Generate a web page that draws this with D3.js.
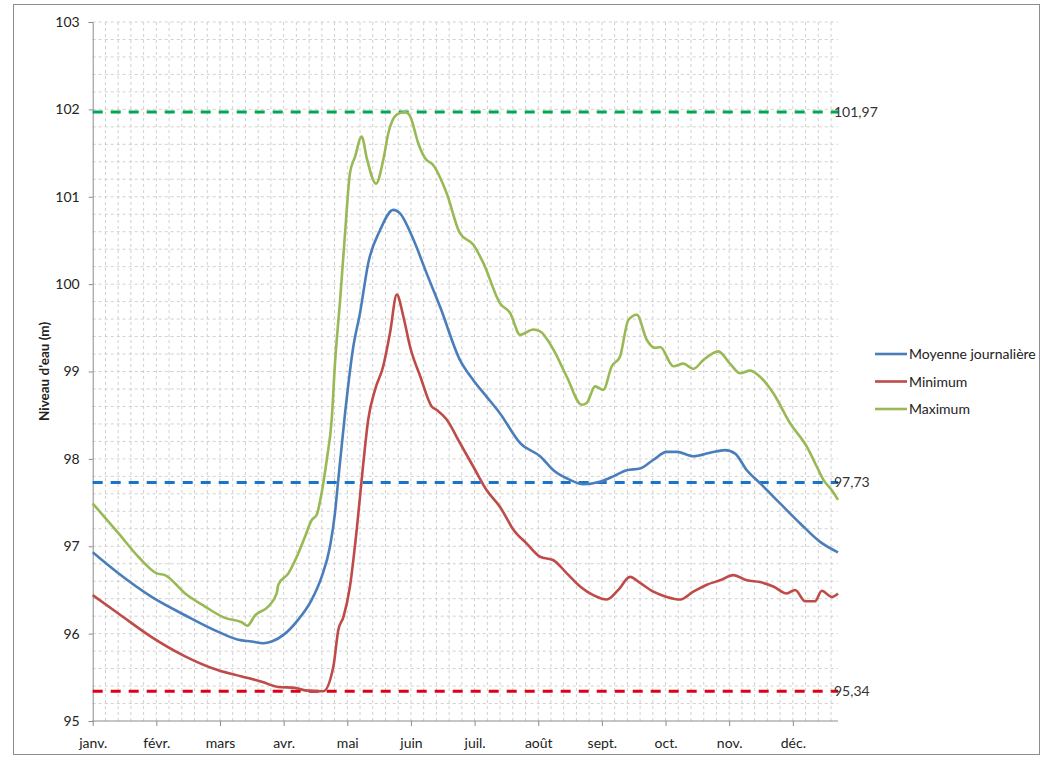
<!DOCTYPE html>
<html>
<head>
<meta charset="utf-8">
<script src="https://cdn.jsdelivr.net/npm/d3@7"></script>
<style>
body { margin: 0; background: #fff; }
text { font-family: Lato, "Open Sans", sans-serif; fill: #222; }
</style>
</head>
<body>
<svg width="1043" height="758"></svg>
<script>
// month labels, one every 31 days on the axis
var months = ["janv.", "févr.", "mars", "avr.", "mai", "juin", "juil.", "août", "sept.", "oct.", "nov.", "déc."];

// Moyenne journalière (day of year, level in m)
var meanDays = [0, 12.5, 28.7, 45, 61.2, 70.9, 77.4, 83.1, 87.2, 93.7, 100.1, 106.7, 111.5, 115.6, 118, 119.6, 122.9, 126.9, 130.2, 134.2, 140, 146.4, 149.7, 156.2, 162.7, 169.2, 178.9, 185.4, 191.9, 198.4, 208.2, 217.9, 224.4, 232.5, 239, 247.4, 253.6, 260.1, 266.6, 273.1, 279.6, 284.5, 292.5, 300.7, 308, 312.9, 318.6, 325.1, 334.8, 344.6, 354.3, 363];
var meanValues = [96.93, 96.69, 96.42, 96.21, 96.02, 95.93, 95.91, 95.89, 95.91, 96.00, 96.16, 96.39, 96.65, 97.0, 97.38, 97.76, 98.52, 99.28, 99.67, 100.24, 100.62, 100.85, 100.81, 100.51, 100.12, 99.74, 99.13, 98.9, 98.71, 98.52, 98.18, 98.03, 97.87, 97.76, 97.71, 97.74, 97.80, 97.87, 97.89, 97.99, 98.08, 98.08, 98.03, 98.07, 98.10, 98.06, 97.87, 97.72, 97.49, 97.26, 97.05, 96.93];

// Minimum
var minDays = [0, 12.5, 28.7, 45, 61.2, 72.6, 82.3, 90.4, 98.5, 103.4, 112.3, 117.2, 119.6, 122.1, 125.3, 128.6, 131.8, 134.2, 137.5, 141.5, 144.8, 148.1, 151.3, 154.6, 159.6, 165.1, 167.6, 172.4, 178.9, 185.4, 191.9, 198.4, 204.9, 211.4, 217.9, 224.4, 230.9, 237.4, 243.8, 250.4, 256, 261.7, 266.6, 273.1, 279.6, 286.2, 292.5, 299.1, 305.6, 312, 318.6, 325, 331.5, 338, 342.1, 347, 351.8, 355.1, 360, 363];
var minValues = [96.44, 96.23, 95.96, 95.74, 95.58, 95.51, 95.45, 95.39, 95.38, 95.35, 95.34, 95.62, 96.04, 96.19, 96.54, 97.19, 97.95, 98.45, 98.79, 99.06, 99.44, 99.88, 99.63, 99.28, 98.94, 98.60, 98.56, 98.45, 98.18, 97.91, 97.64, 97.45, 97.19, 97.03, 96.88, 96.84, 96.69, 96.54, 96.44, 96.39, 96.50, 96.65, 96.58, 96.48, 96.42, 96.39, 96.48, 96.56, 96.61, 96.67, 96.61, 96.59, 96.54, 96.46, 96.50, 96.37, 96.37, 96.49, 96.42, 96.46];

// Maximum
var maxDays = [0, 12.5, 22.2, 31.2, 35.2, 45, 54.7, 64.4, 72.6, 75.3, 79.1, 85.5, 89.6, 90.4, 95.3, 99.4, 103.4, 106.7, 109.1, 111.5, 114, 116.4, 118, 120.5, 122.9, 125.3, 127.8, 131, 133.5, 138, 141.5, 144, 148.1, 152.1, 154.6, 158.6, 161.9, 165.9, 172.4, 178.9, 185.4, 190.3, 198.4, 203.3, 208.2, 214.6, 217.9, 224.4, 230.9, 238.2, 240.6, 244.7, 248.7, 252.8, 256.8, 260.9, 265, 269.9, 273.9, 276.4, 282.8, 287.7, 292.5, 297.4, 304.7, 310.4, 315.3, 320.2, 325, 331.5, 339.6, 347.8, 352.7, 355.9, 360, 363];
var maxValues = [97.49, 97.15, 96.88, 96.69, 96.67, 96.46, 96.31, 96.18, 96.13, 96.09, 96.21, 96.31, 96.46, 96.56, 96.69, 96.88, 97.11, 97.30, 97.36, 97.61, 97.99, 98.45, 99.09, 99.82, 100.58, 101.27, 101.46, 101.69, 101.44, 101.15, 101.42, 101.73, 101.94, 101.97, 101.92, 101.61, 101.44, 101.36, 101.04, 100.58, 100.45, 100.24, 99.78, 99.67, 99.42, 99.48, 99.46, 99.25, 98.94, 98.62, 98.64, 98.83, 98.79, 99.06, 99.17, 99.59, 99.65, 99.36, 99.27, 99.28, 99.06, 99.09, 99.03, 99.13, 99.23, 99.09, 98.98, 99.01, 98.94, 98.75, 98.41, 98.14, 97.91, 97.76, 97.64, 97.53];

// reference levels
var refValues = [101.97, 97.73, 95.34];
var refLabels = ["101,97", "97,73", "95,34"];
var refColors = ["#00a651", "#1a75c9", "#e00016"];

var seriesNames = ["Moyenne journalière", "Minimum", "Maximum"];
var seriesColors = ["#4a7ebb", "#be4b48", "#98b954"];

var svg = d3.select("svg");
var plotLeft = 92.7, plotRight = 838, plotTop = 22, plotBottom = 721;

var x = d3.scaleLinear().domain([0, 363]).range([plotLeft, plotRight]);
var y = d3.scaleLinear().domain([95, 103]).range([plotBottom, plotTop]);

// outer frame
svg.append("rect")
	.attr("x", 13.5).attr("y", 4.5)
	.attr("width", 1026).attr("height", 750)
	.attr("fill", "none").attr("stroke", "#8c8c8c");

// grid
var grid = svg.append("g");
d3.range(1, 41).map(i => 95 + i * 0.2).forEach(v => {
	grid.append("line")
		.attr("x1", plotLeft).attr("x2", plotRight)
		.attr("y1", y(v)).attr("y2", y(v))
		.attr("stroke", "#d0d0d0").attr("stroke-dasharray", "3,3");
});
d3.range(1, 59).map(i => i * 31 / 5).forEach(d => {
	grid.append("line")
		.attr("x1", x(d)).attr("x2", x(d))
		.attr("y1", plotTop).attr("y2", plotBottom)
		.attr("stroke", "#d0d0d0").attr("stroke-dasharray", "3,3");
});

// axes
var yAxis = d3.axisLeft(y).tickValues(d3.range(95, 104)).tickSize(4).tickPadding(9).tickFormat(d3.format("d"));
var gy = svg.append("g").attr("transform", "translate(" + plotLeft + ",0)").call(yAxis);
gy.select(".domain").attr("stroke", "#8c8c8c");
gy.selectAll(".tick line").attr("stroke", "#8c8c8c");
gy.selectAll("text").style("font-size", "14px");

var xAxis = d3.axisBottom(x).tickValues(d3.range(0, 12).map(i => i * 31))
	.tickSize(5).tickPadding(12)
	.tickFormat((d, i) => months[i]);
var gx = svg.append("g").attr("transform", "translate(0," + plotBottom + ")").call(xAxis);
gx.select(".domain").attr("stroke", "#8c8c8c").attr("d", "M" + plotLeft + ",0H" + plotRight);
gx.selectAll(".tick line").attr("stroke", "#8c8c8c");
gx.selectAll("text").style("font-size", "14px");

svg.append("text")
	.attr("transform", "translate(49," + ((plotTop + plotBottom) / 2) + ") rotate(-90)")
	.attr("text-anchor", "middle")
	.style("font-size", "13.5px").style("font-weight", "bold")
	.text("Niveau d'eau (m)");

// reference lines
refValues.forEach((v, i) => {
	svg.append("line")
		.attr("x1", plotLeft).attr("x2", plotRight)
		.attr("y1", y(v)).attr("y2", y(v))
		.attr("stroke", refColors[i]).attr("stroke-width", 3)
		.attr("stroke-dasharray", "10,8");
	svg.append("text")
		.attr("x", plotRight - 4).attr("y", y(v) + 5)
		.style("font-size", "14px").style("fill", "#333")
		.text(refLabels[i]);
});

// series
var line = d3.line()
	.x(d => x(d[0]))
	.y(d => y(d[1]))
	.curve(d3.curveMonotoneX);

var series = [
	d3.zip(meanDays, meanValues),
	d3.zip(minDays, minValues),
	d3.zip(maxDays, maxValues)
];

series.forEach((s, i) => {
	svg.append("path")
		.datum(s)
		.attr("d", line)
		.attr("fill", "none")
		.attr("stroke", seriesColors[i])
		.attr("stroke-width", 2.6)
		.attr("stroke-linejoin", "round");
});

// legend
var legend = svg.append("g").attr("transform", "translate(875,354)");
seriesNames.forEach((name, i) => {
	var row = legend.append("g").attr("transform", "translate(0," + (i * 27.5) + ")");
	row.append("line")
		.attr("x1", 0).attr("x2", 32)
		.attr("stroke", seriesColors[i]).attr("stroke-width", 2.6);
	row.append("text")
		.attr("x", 34).attr("y", 5)
		.style("font-size", "14px")
		.text(name);
});
</script>
</body>
</html>
